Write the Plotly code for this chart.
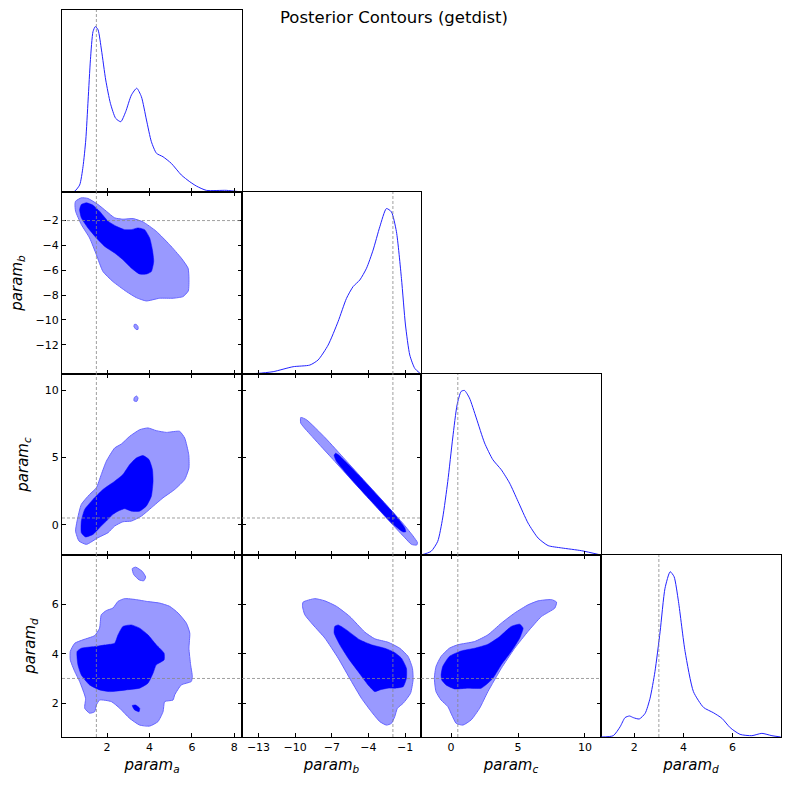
import plotly.graph_objects as go

# parameter names and the true values marked with dashed lines
PARAMS = ["a", "b", "c", "d"]
TRUTHS = [1.5, -2.0, 0.5, 3.0]

# axis limits of each parameter
LIMITS = [(-0.12, 8.36), (-14.35, 0.3), (-2.25, 11.2), (0.64, 7.98)]

# tick values (x axes along the bottom row, y axes along the left column)
X_TICKS = [[2, 4, 6, 8], [-13, -10, -7, -4, -1], [0, 5, 10], [2, 4, 6]]
Y_TICKS = [[], [-12, -10, -8, -6, -4, -2], [0, 5, 10], [2, 4, 6]]

# 1D marginals, normalised so the peak is 1
A_X = [-0.12, 0.43, 0.71, 0.87, 1.0, 1.11, 1.22, 1.34, 1.45, 1.58, 1.74, 1.94, 2.16, 2.41, 2.65,
       2.88, 3.15, 3.40, 3.62, 3.86, 4.09, 4.33, 4.64, 5.03, 5.50, 5.90, 6.21, 6.68, 7.62, 8.36]
A_P = [0, 0, 0.042, 0.153, 0.314, 0.556, 0.80, 0.969, 1.0, 0.98, 0.858, 0.677, 0.536, 0.445, 0.425,
       0.485, 0.586, 0.627, 0.576, 0.435, 0.304, 0.234, 0.213, 0.173, 0.103, 0.062, 0.036, 0.010, 0.010, 0]
B_X = [-14.34, -13.03, -11.8, -10.17, -8.80, -8.12, -7.30, -6.49, -5.80, -5.26, -4.71, -4.16,
       -3.62, -3.07, -2.53, -2.12, -1.71, -1.30, -0.97, -0.62, -0.21, 0.28]
B_P = [0, 0.004, 0.014, 0.044, 0.054, 0.085, 0.175, 0.316, 0.457, 0.528, 0.568, 0.639,
       0.749, 0.890, 1.0, 0.98, 0.86, 0.578, 0.296, 0.115, 0.034, 0]
C_X = [-2.25, -1.50, -1.0, -0.63, -0.25, 0.12, 0.45, 0.75, 1.0, 1.37, 1.88, 2.5, 3.12, 3.75,
       4.37, 5.0, 5.75, 6.50, 7.25, 8.25, 9.75, 11.2]
C_P = [0, 0.022, 0.083, 0.225, 0.447, 0.711, 0.914, 0.994, 1.0, 0.954, 0.833, 0.681, 0.579, 0.518,
       0.437, 0.326, 0.194, 0.103, 0.057, 0.043, 0.026, 0]
D_X = [0.65, 1.14, 1.42, 1.62, 1.80, 1.96, 2.20, 2.44, 2.64, 2.84, 3.05, 3.25, 3.46, 3.62, 3.80,
       4.07, 4.41, 4.82, 5.22, 5.57, 5.91, 6.31, 6.79, 7.20, 7.61, 7.97]
D_P = [0, 0.008, 0.062, 0.117, 0.127, 0.117, 0.109, 0.143, 0.234, 0.395, 0.636, 0.899, 0.999, 0.969,
       0.818, 0.516, 0.274, 0.179, 0.147, 0.113, 0.056, 0.016, 0.008, 0.022, 0.008, 0]

# 2D contours: outer (95%) and inner (68%) regions as (x, y) outlines
AB_OUTER = [(0.52, -0.44), (0.79, -0.17), (1.10, -0.22), (1.58, -0.71), (1.97, -1.25), (2.36, -1.78),
            (2.75, -1.89), (3.23, -1.84), (3.70, -2.11), (4.32, -2.86), (4.95, -3.94), (5.50, -5.02),
            (5.82, -5.83), (5.86, -6.64), (5.83, -7.66), (5.58, -8.12), (5.11, -8.25), (4.48, -8.25),
            (3.85, -8.47), (3.38, -8.20), (2.91, -7.71), (2.28, -6.91), (1.81, -6.10), (1.50, -4.75),
            (1.18, -3.40), (0.79, -2.32), (0.52, -1.25), (0.49, -0.71)]
AB_ISLAND = [(3.29, -10.36), (3.38, -10.36), (3.46, -10.54), (3.46, -10.76), (3.37, -10.76), (3.27, -10.54)]
AB_INNER = [(0.79, -0.71), (1.03, -0.57), (1.34, -0.76), (1.65, -1.25), (2.05, -2.05), (2.44, -2.46),
            (2.83, -2.73), (3.15, -2.73), (3.46, -2.59), (3.77, -2.73), (4.01, -3.40), (4.14, -4.35),
            (4.20, -5.29), (4.09, -6.10), (3.85, -6.31), (3.54, -6.31), (3.15, -5.83), (2.75, -5.15),
            (2.36, -4.61), (1.89, -4.08), (1.50, -3.40), (1.10, -2.59), (0.79, -1.78), (0.71, -1.11)]

AC_OUTER = [(0.59, 0.27), (0.79, 1.51), (1.18, 2.25), (1.50, 2.74), (1.73, 3.73), (1.97, 4.72),
            (2.36, 5.70), (2.68, 6.0), (3.07, 6.57), (3.54, 7.06), (3.93, 7.19), (4.32, 6.99),
            (4.80, 6.86), (5.42, 6.94), (5.66, 6.44), (5.85, 5.21), (5.86, 4.22), (5.66, 3.36),
            (5.19, 2.62), (4.64, 2.0), (4.09, 1.26), (3.62, 0.64), (3.15, 0.27), (2.75, 0.22),
            (2.36, -0.10), (2.05, -0.59), (1.58, -0.96), (1.03, -1.46), (0.68, -1.21), (0.52, -0.47)]
AC_ISLAND = [(3.27, 9.21), (3.29, 9.46), (3.40, 9.56), (3.46, 9.41), (3.40, 9.16)]
AC_INNER = [(0.79, 0.27), (0.95, 1.14), (1.34, 1.88), (1.81, 2.62), (2.36, 3.23), (2.75, 3.73),
            (3.07, 4.47), (3.38, 4.96), (3.70, 5.14), (3.98, 4.84), (4.14, 4.10), (4.17, 3.23),
            (4.09, 2.12), (3.85, 1.38), (3.54, 1.01), (3.15, 1.01), (2.83, 1.19), (2.52, 1.01),
            (2.28, 0.77), (1.97, 0.27), (1.65, -0.22), (1.34, -0.72), (0.99, -0.91), (0.79, -0.59)]

BC_OUTER = [(-9.54, 7.97), (-9.07, 7.80), (-7.52, 6.44), (-5.91, 4.84), (-4.30, 3.23), (-2.56, 1.50),
            (-1.11, 0.02), (-0.35, -0.84), (0.01, -1.33), (-0.05, -1.51), (-0.48, -1.46), (-1.03, -0.96),
            (-2.04, 0.02), (-3.54, 1.50), (-5.28, 3.23), (-6.89, 4.84), (-8.50, 6.44), (-9.54, 7.55)]
BC_INNER = [(-6.70, 5.31), (-6.48, 5.21), (-4.85, 3.73), (-3.21, 2.12), (-1.85, 0.76), (-1.03, -0.22),
            (-0.95, -0.52), (-1.17, -0.54), (-2.12, 0.15), (-3.76, 1.75), (-5.39, 3.36), (-6.62, 4.71),
            (-6.81, 5.16)]

AD_OUTER = [(0.27, 4.09), (0.48, 4.42), (0.87, 4.56), (1.42, 4.73), (1.65, 5.03), (1.73, 5.57),
            (1.97, 5.74), (2.28, 5.84), (2.52, 6.11), (2.83, 6.22), (3.38, 6.18), (3.85, 6.11),
            (4.48, 6.04), (4.95, 5.91), (5.35, 5.64), (5.74, 5.23), (5.90, 4.83), (5.86, 4.22),
            (5.94, 3.55), (6.02, 3.08), (5.97, 2.88), (5.50, 2.74), (5.19, 2.34), (5.11, 2.13),
            (4.72, 2.07), (4.64, 1.66), (4.40, 1.26), (4.01, 1.08), (3.54, 1.12), (3.07, 1.39),
            (2.60, 1.80), (2.20, 2.07), (1.65, 2.13), (1.50, 1.93), (1.42, 1.66), (1.18, 1.60),
            (0.95, 1.80), (0.99, 2.20), (0.71, 2.88), (0.48, 3.28), (0.27, 3.75)]
AD_ISLAND = [(3.19, 7.43), (3.35, 7.49), (3.66, 7.32), (3.82, 7.09), (3.73, 6.94), (3.51, 6.98), (3.26, 7.19)]
AD_INNER = [(0.59, 4.09), (0.79, 4.22), (1.42, 4.29), (1.97, 4.36), (2.36, 4.42), (2.52, 4.76),
            (2.75, 5.10), (3.15, 5.16), (3.54, 5.03), (3.93, 4.76), (4.32, 4.36), (4.69, 4.02),
            (4.69, 3.75), (4.32, 3.55), (4.17, 3.21), (3.93, 2.81), (3.54, 2.61), (2.91, 2.54),
            (2.13, 2.47), (1.65, 2.54), (1.18, 2.74), (0.79, 3.14), (0.63, 3.55)]
AD_INNER_ISLAND = [(3.19, 1.91), (3.35, 1.93), (3.54, 1.80), (3.51, 1.66), (3.30, 1.73)]

BD_OUTER = [(-9.35, 6.08), (-8.39, 6.22), (-7.57, 6.13), (-6.62, 5.91), (-5.53, 5.50), (-4.30, 4.87),
            (-3.48, 4.60), (-2.39, 4.46), (-1.44, 4.22), (-0.76, 3.89), (-0.40, 3.41), (-0.35, 2.94),
            (-0.56, 2.40), (-1.16, 2.0), (-1.63, 1.80), (-1.85, 1.46), (-2.12, 1.19), (-2.53, 1.12),
            (-3.07, 1.26), (-3.76, 1.66), (-4.57, 2.20), (-5.39, 2.88), (-6.48, 3.82), (-7.57, 4.63),
            (-8.53, 5.16), (-9.21, 5.57), (-9.40, 5.91)]
BD_INNER = [(-6.76, 5.10), (-6.48, 5.16), (-5.80, 4.96), (-4.71, 4.56), (-3.76, 4.36), (-2.67, 4.22),
            (-1.90, 4.06), (-1.30, 3.82), (-0.89, 3.41), (-0.89, 3.01), (-1.16, 2.67), (-1.85, 2.61),
            (-2.39, 2.61), (-3.07, 2.54), (-3.48, 2.47), (-4.03, 2.74), (-4.85, 3.28), (-5.66, 3.82),
            (-6.35, 4.36), (-6.81, 4.83)]

CD_OUTER = [(-1.25, 3.01), (-1.13, 3.48), (-0.75, 3.89), (-0.13, 4.22), (0.5, 4.36), (1.75, 4.49),
            (2.75, 4.76), (3.75, 5.23), (4.75, 5.64), (5.75, 5.97), (6.5, 6.13), (7.5, 6.18),
            (7.88, 6.08), (7.75, 5.84), (6.75, 5.50), (5.75, 4.90), (4.75, 4.22), (3.75, 3.41),
            (2.75, 2.47), (2.13, 1.80), (1.5, 1.33), (0.88, 1.12), (0.38, 1.19), (0.05, 1.53),
            (-0.25, 1.87), (-0.75, 2.13), (-1.13, 2.47)]
CD_INNER = [(-0.75, 3.14), (-0.63, 3.48), (-0.13, 3.89), (0.75, 4.11), (1.75, 4.22), (2.75, 4.38),
            (3.63, 4.69), (4.5, 5.10), (5.13, 5.19), (5.38, 5.03), (5.13, 4.63), (4.5, 4.09),
            (3.75, 3.55), (3.13, 3.01), (2.25, 2.61), (1.25, 2.61), (0.25, 2.58), (-0.38, 2.74),
            (-0.70, 2.94)]

MARGINALS = [(A_X, A_P), (B_X, B_P), (C_X, C_P), (D_X, D_P)]
# (row, col) -> (outer outlines, inner outlines)
CONTOURS = {
    (1, 0): ([AB_OUTER, AB_ISLAND], [AB_INNER]),
    (2, 0): ([AC_OUTER, AC_ISLAND], [AC_INNER]),
    (2, 1): ([BC_OUTER], [BC_INNER]),
    (3, 0): ([AD_OUTER, AD_ISLAND], [AD_INNER, AD_INNER_ISLAND]),
    (3, 1): ([BD_OUTER], [BD_INNER]),
    (3, 2): ([CD_OUTER], [CD_INNER]),
}

# the page body has an 8px margin, so the figure is drawn 8px smaller
# and all panel edges (window pixels) are shifted by that amount
PAD = 8
W = H = 790 - PAD
X_EDGES = [62, 242, 421, 601, 781]
Y_EDGES = [10, 192, 374, 555, 737]
FONT = "DejaVu Sans"


def outline(polys):
    xs, ys = [], []
    for poly in polys:
        xs += [p[0] for p in poly] + [poly[0][0], None]
        ys += [p[1] for p in poly] + [poly[0][1], None]
    return xs, ys


def label(p):
    return f"<i>param</i><sub><i>{p}</i></sub>"


fig = go.Figure()
layout = {}
shapes = []
k = 0
for r in range(4):
    for c in range(r + 1):
        k += 1
        xa = "x" if k == 1 else f"x{k}"
        ya = "y" if k == 1 else f"y{k}"
        diag = r == c
        common = dict(showline=True, linecolor="black", linewidth=1, showgrid=False, zeroline=False,
                      ticks="inside", ticklen=4, tickwidth=1, tickcolor="black",
                      tickfont=dict(family=FONT, size=11, color="black"), automargin=False)
        xaxis = dict(common, domain=[(X_EDGES[c] - PAD) / W, (X_EDGES[c + 1] - PAD) / W],
                     range=LIMITS[c], tickvals=X_TICKS[c], anchor=ya,
                     mirror=True if diag else "ticks", showticklabels=(r == 3))
        if r == 3:
            xaxis["title"] = dict(text=label(PARAMS[c]), standoff=6,
                                  font=dict(family=FONT, size=15, color="black"))
        if diag:
            yaxis = dict(common, range=[0, 1.1], ticks="", showticklabels=False, mirror=True)
        else:
            yaxis = dict(common, range=LIMITS[r], tickvals=Y_TICKS[r], mirror="ticks",
                         showticklabels=(c == 0))
            if c == 0:
                yaxis["title"] = dict(text=label(PARAMS[r]), standoff=12,
                                      font=dict(family=FONT, size=15, color="black"))
        yaxis.update(domain=[1 - (Y_EDGES[r + 1] - PAD) / H, 1 - (Y_EDGES[r] - PAD) / H], anchor=xa)
        layout["xaxis" if k == 1 else f"xaxis{k}"] = xaxis
        layout["yaxis" if k == 1 else f"yaxis{k}"] = yaxis

        dash = dict(color="#888888", width=0.8, dash="3px,2px")
        if diag:
            mx, mp = MARGINALS[c]
            fig.add_trace(go.Scatter(x=mx, y=mp, mode="lines",
                                     line=dict(color="#2222ff", width=1, shape="spline", smoothing=0.6),
                                     xaxis=xa, yaxis=ya, showlegend=False, hoverinfo="skip"))
            shapes.append(dict(type="line", xref=xa, yref=f"{ya} domain", x0=TRUTHS[c], x1=TRUTHS[c],
                               y0=0, y1=1, line=dash, layer="above"))
        else:
            outer, inner = CONTOURS[(r, c)]
            ox, oy = outline(outer)
            fig.add_trace(go.Scatter(x=ox, y=oy, mode="lines", fill="toself", fillcolor="#9999ff",
                                     line=dict(color="#6666ff", width=1, shape="spline", smoothing=0.5),
                                     xaxis=xa, yaxis=ya, showlegend=False, hoverinfo="skip"))
            ix, iy = outline(inner)
            fig.add_trace(go.Scatter(x=ix, y=iy, mode="lines", fill="toself", fillcolor="#0000ff",
                                     line=dict(color="#0000ff", width=0.5, shape="spline", smoothing=0.5),
                                     xaxis=xa, yaxis=ya, showlegend=False, hoverinfo="skip"))
            shapes.append(dict(type="line", xref=xa, yref=f"{ya} domain", x0=TRUTHS[c], x1=TRUTHS[c],
                               y0=0, y1=1, line=dash, layer="above"))
            shapes.append(dict(type="line", xref=f"{xa} domain", yref=ya, x0=0, x1=1,
                               y0=TRUTHS[r], y1=TRUTHS[r], line=dash, layer="above"))

fig.update_layout(
    **layout,
    shapes=shapes,
    width=W, height=H,
    margin=dict(l=0, r=0, t=0, b=0),
    template="none",
    paper_bgcolor="white", plot_bgcolor="white",
    font=dict(family=FONT, color="black"),
    title=dict(text="Posterior Contours (getdist)", x=(394 - PAD) / W, y=1 - (17 - PAD) / H,
               xanchor="center", yanchor="middle", font=dict(family=FONT, size=16.5, color="black")),
)

fig.write_html("out.html")
